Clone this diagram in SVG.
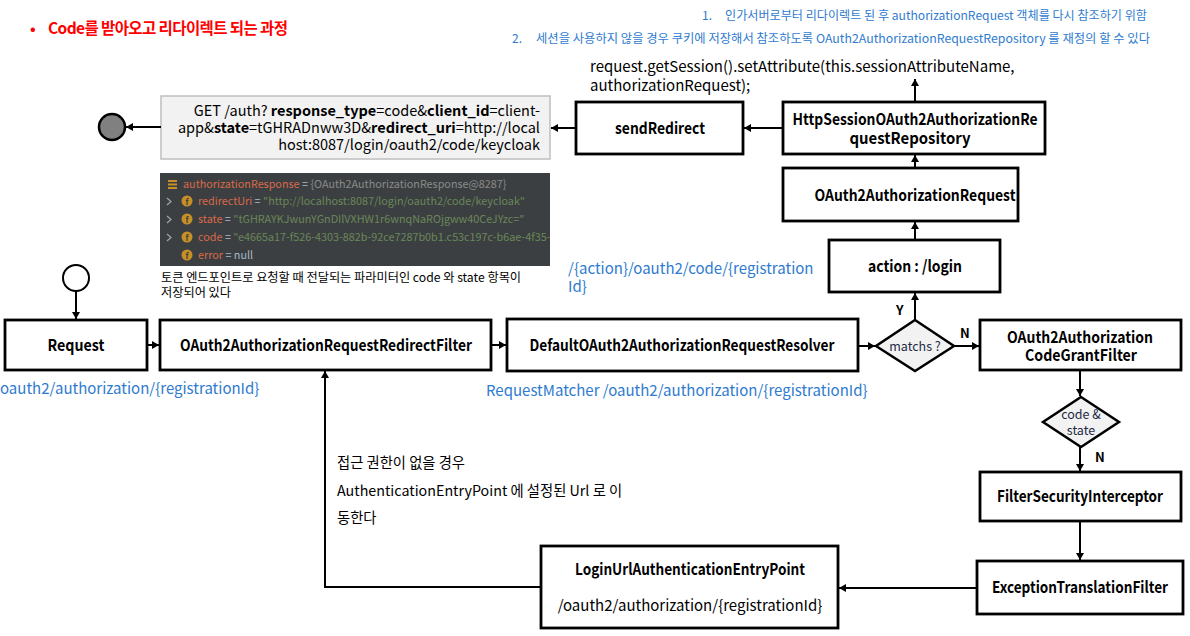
<svg xmlns="http://www.w3.org/2000/svg" width="1190" height="636" viewBox="0 0 1190 636">
<style>
text{font-family:"Noto Sans CJK KR","Noto Sans",sans-serif;}
.box{fill:#ffffff;stroke:#000;stroke-width:2.8;}
.lbl{font-size:16px;font-weight:bold;fill:#000;text-anchor:middle;}
.blue{font-size:15px;fill:#2e7bcf;}
.note{font-size:12px;fill:#2e7bcf;}
.dia{fill:#f2f2f2;stroke:#000;stroke-width:2.5;}
.dtxt{font-size:12.5px;fill:#1e2b45;text-anchor:middle;}
.yn{font-size:13px;font-weight:bold;fill:#000;}
.con{fill:none;stroke:#000;stroke-width:2;marker-end:url(#ah);}
.kr{font-size:14.3px;fill:#000;}
.dbg{font-size:10.8px;}
.nm{fill:#d9694a;}
.eq{fill:#a9b7c6;}
.gr{fill:#6a8759;}
.gy{fill:#8a8a8a;}
.chev{fill:none;stroke:#a0a0a0;stroke-width:1.3;}
.fi{font-size:8px;fill:#3c3f41;text-anchor:middle;font-weight:bold;}
</style>
<defs>
<marker id="ah" markerUnits="userSpaceOnUse" markerWidth="10" markerHeight="10" refX="7" refY="4" orient="auto">
<path d="M0,0 L7,4 L0,8 Z" fill="#000"/>
</marker>
<clipPath id="panelClip"><rect x="160" y="173" width="390" height="93"/></clipPath>
</defs>
<rect width="1190" height="636" fill="#ffffff"/>

<g id="title">
<text x="30" y="34" style="font-size:15px;font-weight:bold;fill:#ff0000;">•</text>
<text x="48" y="34" style="font-size:15.5px;font-weight:bold;fill:#ff0000;letter-spacing:-0.6px;">Code를 받아오고 리다이렉트 되는 과정</text>
</g>

<g id="notes">
<text class="note" x="702" y="20">1.</text>
<text class="note" x="725" y="20" textLength="422" lengthAdjust="spacingAndGlyphs">인가서버로부터 리다이렉트 된 후 authorizationRequest 객체를 다시 참조하기 위함</text>
<text class="note" x="512" y="43">2.</text>
<text class="note" x="536" y="43" textLength="614" lengthAdjust="spacingAndGlyphs">세션을 사용하지 않을 경우 쿠키에 저장해서 참조하도록  OAuth2AuthorizationRequestRepository 를 재정의 할 수 있다</text>
</g>

<g id="session-code">
<text x="590" y="72" style="font-size:15px;fill:#000;">request.getSession().setAttribute(this.sessionAttributeName,</text>
<text x="590" y="91" style="font-size:15px;fill:#000;">authorizationRequest);</text>
</g>

<g id="end-circle">
<circle cx="112" cy="127" r="13" fill="#808080" stroke="#000" stroke-width="2.5"/>
</g>

<g id="get-url">
<rect x="161" y="96" width="389" height="63" fill="#f2f2f2" stroke="#bfbfbf" stroke-width="1.5"/>
<text x="540" y="116" style="font-size:14.5px;fill:#000;text-anchor:end;">GET /auth? <tspan font-weight="bold">response_type</tspan>=code&amp;<tspan font-weight="bold">client_id</tspan>=client-</text>
<text x="540" y="133" style="font-size:14.5px;fill:#000;text-anchor:end;">app&amp;<tspan font-weight="bold">state</tspan>=tGHRADnww3D&amp;<tspan font-weight="bold">redirect_uri</tspan>=http://local</text>
<text x="540" y="150" style="font-size:14.5px;fill:#000;text-anchor:end;">host:8087/login/oauth2/code/keycloak</text>
</g>

<g id="sendRedirect">
<rect class="box" x="576" y="102" width="167" height="52"/>
<text class="lbl" x="660" y="134" textLength="90" lengthAdjust="spacingAndGlyphs">sendRedirect</text>
</g>

<g id="httpSessionRepo">
<rect class="box" x="783" y="102" width="262" height="52"/>
<text class="lbl" x="915" y="125" textLength="245" lengthAdjust="spacingAndGlyphs">HttpSessionOAuth2AuthorizationRe</text>
<text class="lbl" x="910" y="144" textLength="121" lengthAdjust="spacingAndGlyphs">questRepository</text>
</g>

<g id="oauth2AuthRequest">
<rect class="box" x="783" y="168" width="235" height="53"/>
<text class="lbl" x="915" y="201" textLength="201" lengthAdjust="spacingAndGlyphs">OAuth2AuthorizationRequest</text>
</g>

<g id="action">
<rect class="box" x="829" y="240" width="171" height="52"/>
<text class="lbl" x="915" y="272" textLength="94" lengthAdjust="spacingAndGlyphs">action : /login</text>
</g>

<g id="debug-panel">
<rect x="160" y="173" width="390" height="93" fill="#3c3f41"/>
<g class="dbg" clip-path="url(#panelClip)">
<rect x="168" y="180" width="9" height="2" fill="#c69026"/>
<rect x="168" y="183.5" width="9" height="2" fill="#c69026"/>
<rect x="168" y="187" width="9" height="2" fill="#c69026"/>
<text x="183" y="188"><tspan class="nm">authorizationResponse</tspan><tspan class="eq"> = </tspan><tspan class="gy">{OAuth2AuthorizationResponse@8287}</tspan></text>
<path class="chev" d="M167,198 L171,201.5 L167,205"/>
<circle cx="187" cy="201" r="5.5" fill="#c69026"/><text class="fi" x="187" y="204.5">f</text>
<text x="198" y="205"><tspan class="nm">redirectUri</tspan><tspan class="eq"> = </tspan><tspan class="gr">"http://localhost:8087/login/oauth2/code/keycloak"</tspan></text>
<path class="chev" d="M167,216 L171,219.5 L167,223"/>
<circle cx="187" cy="219" r="5.5" fill="#c69026"/><text class="fi" x="187" y="222.5">f</text>
<text x="198" y="223"><tspan class="nm">state</tspan><tspan class="eq"> = </tspan><tspan class="gr">"tGHRAYKJwunYGnDIlVXHW1r6wnqNaROjgww40CeJYzc="</tspan></text>
<path class="chev" d="M167,234 L171,237.5 L167,241"/>
<circle cx="187" cy="237" r="5.5" fill="#c69026"/><text class="fi" x="187" y="240.5">f</text>
<text x="198" y="241"><tspan class="nm">code</tspan><tspan class="eq"> = </tspan><tspan class="gr">"e4665a17-f526-4303-882b-92ce7287b0b1.c53c197c-b6ae-4f35-90</tspan></text>
<circle cx="187" cy="255" r="5.5" fill="#c69026"/><text class="fi" x="187" y="258.5">f</text>
<text x="198" y="259"><tspan class="nm">error</tspan><tspan class="eq"> = null</tspan></text>
</g>
<text x="161" y="282" style="font-size:12.2px;fill:#000;">토큰 엔드포인트로 요청할 때 전달되는 파라미터인 code 와 state 항목이</text>
<text x="161" y="297" style="font-size:12.2px;fill:#000;">저장되어 있다</text>
</g>

<g id="start-circle">
<circle cx="76" cy="278" r="13" fill="#fff" stroke="#000" stroke-width="2"/>
</g>

<g id="request">
<rect class="box" x="5" y="320" width="142" height="50"/>
<text class="lbl" x="76" y="351" textLength="57" lengthAdjust="spacingAndGlyphs">Request</text>
</g>
<text class="blue" x="0" y="394">oauth2/authorization/{registrationId}</text>

<g id="redirectFilter">
<rect class="box" x="160" y="320" width="331" height="50"/>
<text class="lbl" x="326" y="351" textLength="292" lengthAdjust="spacingAndGlyphs">OAuth2AuthorizationRequestRedirectFilter</text>
</g>

<g id="resolver">
<rect class="box" x="507" y="319" width="351" height="52"/>
<text class="lbl" x="682" y="351" textLength="305" lengthAdjust="spacingAndGlyphs">DefaultOAuth2AuthorizationRequestResolver</text>
</g>
<text class="blue" x="486" y="396">RequestMatcher  /oauth2/authorization/{registrationId}</text>

<text class="blue" x="568" y="274">/{action}/oauth2/code/{registration</text>
<text class="blue" x="568" y="292">Id}</text>

<g id="matchs">
<polygon class="dia" points="915,320 954,346 915,371 876,346"/>
<text class="dtxt" x="915" y="351">matchs ?</text>
</g>
<text class="yn" x="896" y="315">Y</text>
<text class="yn" x="960" y="338">N</text>

<g id="codeGrantFilter">
<rect class="box" x="980" y="320" width="201" height="50"/>
<text class="lbl" x="1080" y="343" textLength="146" lengthAdjust="spacingAndGlyphs">OAuth2Authorization</text>
<text class="lbl" x="1081" y="361" textLength="112" lengthAdjust="spacingAndGlyphs">CodeGrantFilter</text>
</g>

<g id="codeState">
<polygon class="dia" points="1081,397 1119,422 1081,447 1043,422"/>
<text class="dtxt" x="1081" y="419">code &amp;</text>
<text class="dtxt" x="1081" y="435">state</text>
</g>
<text class="yn" x="1095" y="462">N</text>

<g id="filterSecurityInterceptor">
<rect class="box" x="980" y="472" width="201" height="49"/>
<text class="lbl" x="1080" y="502" textLength="166" lengthAdjust="spacingAndGlyphs">FilterSecurityInterceptor</text>
</g>

<g id="exceptionTranslationFilter">
<rect class="box" x="977" y="561" width="206" height="53"/>
<text class="lbl" x="1080" y="593" textLength="176" lengthAdjust="spacingAndGlyphs">ExceptionTranslationFilter</text>
</g>

<g id="loginUrlEntryPoint">
<rect class="box" x="541" y="546" width="297" height="82"/>
<text class="lbl" x="690" y="575" textLength="230" lengthAdjust="spacingAndGlyphs">LoginUrlAuthenticationEntryPoint</text>
<text x="690" y="611" style="font-size:15px;fill:#000;text-anchor:middle;">/oauth2/authorization/{registrationId}</text>
</g>

<g id="entry-note">
<text class="kr" x="337" y="468">접근 권한이 없을 경우</text>
<text class="kr" x="337" y="496">AuthenticationEntryPoint 에 설정된 Url 로 이</text>
<text class="kr" x="337" y="523">동한다</text>
</g>

<g id="connectors">
<path class="con" d="M76,291 V319"/>
<path class="con" d="M147,345 H159"/>
<path class="con" d="M491,345 H506"/>
<path class="con" d="M858,346 H875"/>
<path class="con" d="M954,346 H979"/>
<path class="con" d="M915,320 V293"/>
<path class="con" d="M915,240 V222"/>
<path class="con" d="M915,168 V155"/>
<path class="con" d="M915,102 V79"/>
<path class="con" d="M783,128 H744"/>
<path class="con" d="M576,128 H551"/>
<path class="con" d="M161,127 H126"/>
<path class="con" d="M1080,370 V396"/>
<path class="con" d="M1080,447 V471"/>
<path class="con" d="M1080,521 V560"/>
<path class="con" d="M977,588 H839"/>
<path class="con" d="M541,587 H325 V371"/>
</g>
</svg>
